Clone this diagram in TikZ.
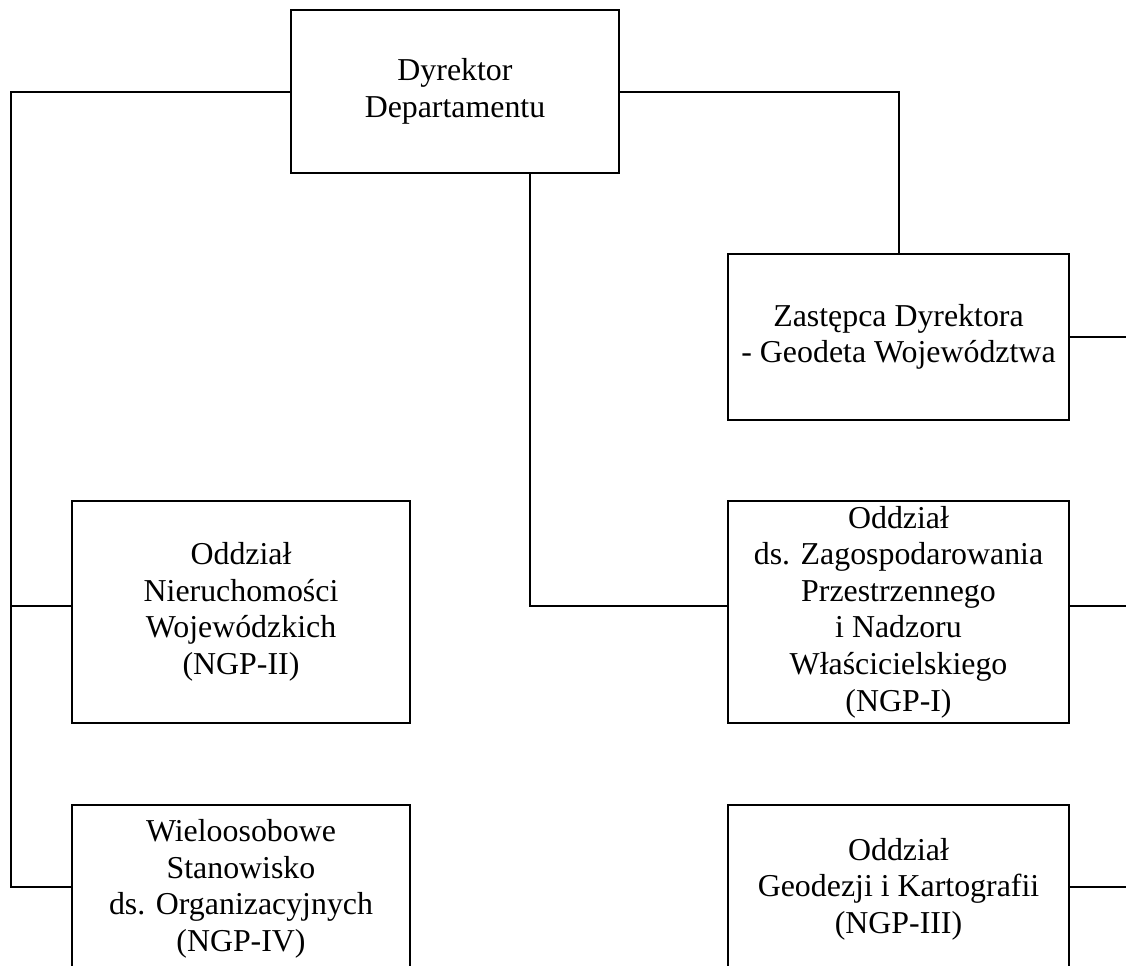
\documentclass[tikz,border=0pt]{standalone}
\usepackage{fontspec}
\setmainfont{Liberation Serif}

\begin{document}
\begin{tikzpicture}[x=0.75pt, y=-0.75pt, line width=1.5pt,
    unit/.style={draw, align=center, inner sep=0pt,
      font=\fontsize{23.9}{27.4}\selectfont},
    leftcol/.style={unit, minimum width=253.5pt},
    rightcol/.style={unit, minimum width=255.75pt}]
  % page frame, the bottom row runs off the page
  \useasboundingbox (0,0) rectangle (1126,965);
  \clip (0,0) rectangle (1126,965);

  % Boxes
  \node[unit, minimum width=246pt, minimum height=122.25pt] (dyr) at (455,91.5)
    {Dyrektor\\Departamentu};
  \node[rightcol, minimum height=124.5pt] (zas) at (898.5,337)
    {Zastępca Dyrektora\\- Geodeta Województwa};
  \node[leftcol, minimum height=166.5pt] (nier) at (241,612)
    {Oddział\\Nieruchomości\\Wojewódzkich\\(NGP-II)};
  \node[rightcol, minimum height=166.5pt] (zag) at (898.5,612)
    {Oddział\\ds. Zagospodarowania\\Przestrzennego\\i Nadzoru\\Właścicielskiego\\(NGP-I)};
  \node[leftcol, minimum height=126pt] (wie) at (241,889)
    {Wieloosobowe\\Stanowisko\\ds. Organizacyjnych\\(NGP-IV)};
  \node[rightcol, minimum height=126pt] (geo) at (898.5,889)
    {Oddział\\Geodezji i Kartografii\\(NGP-III)};

  % Link points
  \coordinate (busL) at (11,887);
  \coordinate (rim) at (1126,0);
  \coordinate (nierIn) at ([yshift=4.5pt]nier.west);
  \coordinate (zagIn) at ([yshift=4.5pt]zag.west);
  \coordinate (zagOut) at ([yshift=4.5pt]zag.east);
  \coordinate (geoOut) at ([yshift=1.5pt]geo.east);

  % Left bus
  \draw (dyr.west) -| (busL) -- (busL -| wie.west);
  \draw (busL |- nierIn) -- (nierIn);

  % Deputy and NGP-I
  \draw (dyr.east) -| (zas.north);
  \draw (dyr.south) ++(75,0) |- (zagIn);

  % Off-page links to the right
  \draw (zas.east) -- (zas.east -| rim);
  \draw (zagOut) -- (zagOut -| rim);
  \draw (geoOut) -- (geoOut -| rim);

\end{tikzpicture}
\end{document}
